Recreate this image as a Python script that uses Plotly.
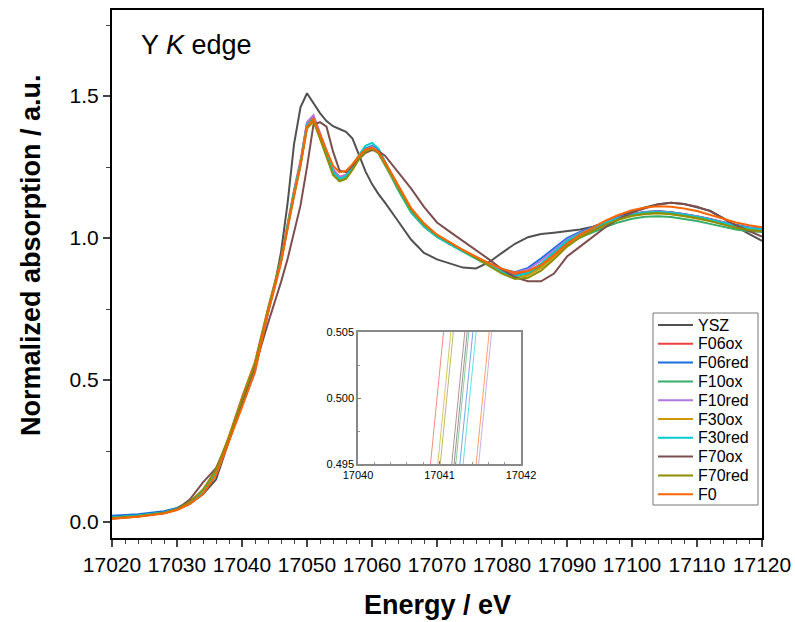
import plotly.graph_objects as go

energy = [17020, 17024, 17028, 17030, 17032, 17034, 17036, 17038, 17040, 17042,
          17044, 17045, 17046, 17047, 17048, 17049, 17050, 17051, 17052, 17053,
          17054, 17055, 17056, 17057, 17058, 17059, 17060, 17061, 17062, 17063,
          17064, 17066, 17068, 17070, 17072, 17074, 17076, 17078, 17080, 17082,
          17084, 17086, 17088, 17090, 17092, 17094, 17096, 17098, 17100, 17102,
          17104, 17106, 17108, 17110, 17112, 17114, 17116, 17118, 17120]

YSZ = [0.015, 0.022, 0.032, 0.043, 0.065, 0.098, 0.150, 0.285, 0.4213, 0.5463,
       0.735, 0.830, 0.950, 1.120, 1.330, 1.460, 1.510, 1.475, 1.440, 1.412,
       1.394, 1.384, 1.374, 1.350, 1.290, 1.235, 1.190, 1.155, 1.125, 1.094,
       1.060, 0.995, 0.948, 0.925, 0.910, 0.896, 0.893, 0.915, 0.948, 0.980,
       1.003, 1.014, 1.019, 1.024, 1.030, 1.040, 1.055, 1.075, 1.093, 1.108,
       1.119, 1.124, 1.120, 1.108, 1.096, 1.070, 1.040, 1.015, 0.990]

F06ox = [0.016, 0.023, 0.034, 0.047, 0.070, 0.108, 0.178, 0.302, 0.4394, 0.5644,
         0.752, 0.838, 0.928, 1.048, 1.168, 1.272, 1.405, 1.425, 1.368, 1.302,
         1.242, 1.215, 1.222, 1.252, 1.287, 1.312, 1.320, 1.304, 1.264, 1.224,
         1.178, 1.096, 1.043, 1.006, 0.980, 0.955, 0.932, 0.908, 0.885, 0.872,
         0.882, 0.908, 0.945, 0.985, 1.012, 1.033, 1.053, 1.071, 1.084, 1.092,
         1.094, 1.091, 1.085, 1.077, 1.067, 1.055, 1.044, 1.035, 1.030]

F06red = [0.022, 0.028, 0.038, 0.050, 0.072, 0.108, 0.172, 0.290, 0.4169, 0.5419,
          0.742, 0.828, 0.918, 1.038, 1.158, 1.262, 1.398, 1.418, 1.360, 1.295,
          1.235, 1.210, 1.218, 1.250, 1.288, 1.315, 1.325, 1.310, 1.268, 1.226,
          1.180, 1.098, 1.044, 1.006, 0.980, 0.955, 0.932, 0.910, 0.890, 0.880,
          0.895, 0.928, 0.965, 1.000, 1.022, 1.040, 1.058, 1.074, 1.085, 1.092,
          1.094, 1.091, 1.085, 1.077, 1.067, 1.056, 1.046, 1.038, 1.033]

F10ox = [0.015, 0.022, 0.033, 0.045, 0.068, 0.105, 0.172, 0.295, 0.4200, 0.5450,
         0.745, 0.830, 0.920, 1.040, 1.160, 1.262, 1.398, 1.418, 1.360, 1.292,
         1.232, 1.207, 1.214, 1.245, 1.282, 1.306, 1.315, 1.298, 1.258, 1.215,
         1.170, 1.090, 1.040, 1.004, 0.978, 0.952, 0.928, 0.904, 0.880, 0.866,
         0.874, 0.900, 0.936, 0.975, 1.002, 1.022, 1.040, 1.056, 1.068, 1.075,
         1.077, 1.074, 1.068, 1.060, 1.050, 1.040, 1.030, 1.024, 1.021]

F10red = [0.014, 0.021, 0.032, 0.044, 0.066, 0.102, 0.168, 0.288, 0.4025, 0.5275,
          0.740, 0.828, 0.918, 1.040, 1.162, 1.268, 1.408, 1.433, 1.372, 1.305,
          1.244, 1.215, 1.222, 1.252, 1.286, 1.312, 1.322, 1.306, 1.266, 1.225,
          1.180, 1.098, 1.045, 1.008, 0.982, 0.956, 0.933, 0.910, 0.888, 0.878,
          0.890, 0.920, 0.958, 0.995, 1.018, 1.037, 1.056, 1.072, 1.084, 1.091,
          1.093, 1.090, 1.084, 1.076, 1.066, 1.055, 1.044, 1.036, 1.031]

F30ox = [0.015, 0.022, 0.033, 0.046, 0.070, 0.110, 0.180, 0.300, 0.4338, 0.5588,
         0.748, 0.832, 0.920, 1.040, 1.158, 1.260, 1.395, 1.415, 1.355, 1.288,
         1.228, 1.205, 1.213, 1.245, 1.282, 1.308, 1.318, 1.302, 1.262, 1.222,
         1.178, 1.097, 1.045, 1.008, 0.982, 0.955, 0.930, 0.905, 0.880, 0.862,
         0.868, 0.895, 0.933, 0.975, 1.005, 1.027, 1.047, 1.065, 1.078, 1.085,
         1.087, 1.084, 1.078, 1.070, 1.060, 1.049, 1.038, 1.030, 1.025]

F30red = [0.016, 0.023, 0.034, 0.046, 0.068, 0.104, 0.170, 0.290, 0.4144, 0.5394,
          0.744, 0.830, 0.920, 1.040, 1.160, 1.264, 1.400, 1.420, 1.362, 1.295,
          1.234, 1.208, 1.218, 1.252, 1.292, 1.325, 1.335, 1.315, 1.270, 1.225,
          1.178, 1.094, 1.042, 1.005, 0.978, 0.952, 0.928, 0.904, 0.880, 0.866,
          0.878, 0.910, 0.950, 0.990, 1.016, 1.036, 1.055, 1.071, 1.083, 1.090,
          1.092, 1.089, 1.083, 1.075, 1.065, 1.054, 1.043, 1.035, 1.030]

F70ox = [0.012, 0.020, 0.032, 0.045, 0.080, 0.140, 0.190, 0.290, 0.4231, 0.5481,
         0.700, 0.770, 0.845, 0.925, 1.020, 1.115, 1.250, 1.400, 1.408, 1.392,
         1.305, 1.238, 1.232, 1.255, 1.280, 1.300, 1.310, 1.306, 1.290, 1.262,
         1.232, 1.175, 1.110, 1.055, 1.022, 0.990, 0.960, 0.925, 0.890, 0.862,
         0.848, 0.848, 0.875, 0.935, 0.970, 1.005, 1.040, 1.068, 1.090, 1.105,
         1.118, 1.124, 1.120, 1.110, 1.095, 1.070, 1.045, 1.025, 1.005]

F70red = [0.014, 0.021, 0.032, 0.045, 0.072, 0.115, 0.185, 0.300, 0.4319, 0.5569,
          0.748, 0.832, 0.918, 1.036, 1.152, 1.255, 1.385, 1.412, 1.350, 1.282,
          1.222, 1.200, 1.208, 1.240, 1.278, 1.304, 1.314, 1.300, 1.262, 1.224,
          1.180, 1.100, 1.048, 1.010, 0.984, 0.956, 0.930, 0.902, 0.875, 0.856,
          0.860, 0.885, 0.925, 0.970, 1.002, 1.026, 1.048, 1.066, 1.079, 1.086,
          1.088, 1.085, 1.079, 1.071, 1.060, 1.048, 1.036, 1.028, 1.024]

F0 = [0.012, 0.019, 0.030, 0.042, 0.064, 0.100, 0.165, 0.284, 0.4044, 0.5294,
      0.738, 0.822, 0.912, 1.030, 1.150, 1.255, 1.392, 1.420, 1.368, 1.310,
      1.255, 1.232, 1.236, 1.260, 1.290, 1.312, 1.318, 1.303, 1.268, 1.230,
      1.188, 1.106, 1.052, 1.012, 0.985, 0.958, 0.935, 0.912, 0.892, 0.878,
      0.884, 0.905, 0.940, 0.980, 1.012, 1.038, 1.062, 1.082, 1.098, 1.108,
      1.112, 1.110, 1.104, 1.095, 1.082, 1.068, 1.055, 1.045, 1.038]

names = ["YSZ", "F06ox", "F06red", "F10ox", "F10red", "F30ox", "F30red", "F70ox", "F70red", "F0"]
series = [YSZ, F06ox, F06red, F10ox, F10red, F30ox, F30red, F70ox, F70red, F0]
colors = ["#515151", "#F14040", "#1A6FDF", "#37AD6B", "#B177DE",
          "#CC9900", "#00CBCC", "#7D4E4E", "#8E8E00", "#FB6501"]

x_ticks = [17020, 17030, 17040, 17050, 17060, 17070, 17080, 17090, 17100, 17110, 17120]
y_ticks = [0.0, 0.5, 1.0, 1.5]
inset_x_ticks = [17040, 17041, 17042]
inset_y_ticks = [0.495, 0.500, 0.505]

W, H = 795, 622
ML, MR, MT, MB = 112, 33, 10, 84
PW, PH = W - ML - MR, H - MT - MB


def px(x):
    return (x - ML) / PW


def py(y):
    return (H - MB - y) / PH


fig = go.Figure()
for n, s, c in zip(names, series, colors):
    fig.add_trace(go.Scatter(x=energy, y=s, name=n, mode="lines", showlegend=False,
                             line=dict(color=c, width=2)))
for n, s, c in zip(names, series, colors):
    fig.add_trace(go.Scatter(x=energy, y=s, name=n, mode="lines", showlegend=False,
                             line=dict(color=c, width=1), opacity=0.6,
                             xaxis="x2", yaxis="y2", hoverinfo="skip"))

font = "Liberation Sans, Arial, sans-serif"

# legend drawn as a boxed key (line sample + label per series)
shapes = [dict(type="rect", xref="paper", yref="paper",
               x0=px(653), x1=px(758), y0=py(505), y1=py(313),
               line=dict(color="#777", width=1), fillcolor="white", layer="above")]
annotations = []
for i, (n, c) in enumerate(zip(names, colors)):
    yc = 325 + 18.8 * i
    shapes.append(dict(type="line", xref="paper", yref="paper",
                       x0=px(658), x1=px(693), y0=py(yc), y1=py(yc),
                       line=dict(color=c, width=2), layer="above"))
    annotations.append(dict(text=n, xref="paper", yref="paper", x=px(696), y=py(yc),
                            xanchor="left", yanchor="middle", showarrow=False,
                            font=dict(size=16, family=font, color="black")))

annotations.append(dict(text="Y <i>K</i> edge", xref="paper", yref="paper", x=px(139), y=py(45),
                        xanchor="left", yanchor="middle", showarrow=False,
                        font=dict(size=27, family=font, color="black")))
annotations.append(dict(text="<b>Energy / eV</b>", xref="paper", yref="paper",
                        x=px(437), y=py(605), xanchor="center", yanchor="middle",
                        showarrow=False, font=dict(size=27, family=font, color="black")))
annotations.append(dict(text="<b>Normalized absorption / a.u.</b>", xref="paper", yref="paper",
                        x=px(31), y=py(255), xanchor="center", yanchor="middle", textangle=-90,
                        showarrow=False, font=dict(size=27, family=font, color="black")))

fig.update_layout(
    width=W, height=H,
    margin=dict(l=ML, r=MR, t=MT, b=MB, autoexpand=False),
    paper_bgcolor="white", plot_bgcolor="white",
    font=dict(family=font, color="black", size=16),
    xaxis=dict(range=[17020, 17120], tickvals=x_ticks, tickformat="d", ticks="outside", ticklen=7,
               tickwidth=1.5, showline=True, linewidth=2, linecolor="black", mirror=True,
               showgrid=False, zeroline=False, tickfont=dict(size=21), automargin=False,
               minor=dict(dtick=2, ticks="outside", ticklen=4, tickwidth=1.2, showgrid=False)),
    yaxis=dict(range=[-0.056, 1.803], tickvals=y_ticks, tickformat=".1f", ticks="outside",
               ticklen=7, tickwidth=1.5, automargin=False,
               showline=True, linewidth=2, linecolor="black", mirror=True, showgrid=False,
               zeroline=False, tickfont=dict(size=21),
               minor=dict(dtick=0.25, ticks="outside", ticklen=4, tickwidth=1.2, showgrid=False)),
    xaxis2=dict(domain=[px(358), px(521)], anchor="y2", range=[17040, 17042], tickvals=inset_x_ticks,
                ticks="inside", ticklen=3, tickwidth=1, tickcolor="#777", automargin=False,
                showline=True, linewidth=1.5, linecolor="#888", mirror=True, showgrid=False,
                zeroline=False, tickfont=dict(size=11), tickformat="d",
                minor=dict(dtick=0.2, ticks="inside", ticklen=2, tickcolor="#999", showgrid=False)),
    yaxis2=dict(domain=[py(464), py(332)], anchor="x2", range=[0.495, 0.505], tickvals=inset_y_ticks,
                tickformat=".3f", ticks="inside", ticklen=3, tickwidth=1, tickcolor="#777",
                automargin=False,
                showline=True, linewidth=1.5, linecolor="#888", mirror=True, showgrid=False,
                zeroline=False, tickfont=dict(size=11),
                minor=dict(dtick=0.0025, ticks="inside", ticklen=2, tickcolor="#999", showgrid=False)),
    showlegend=False,
    shapes=shapes,
    annotations=annotations,
)

fig.write_html("out.html")
